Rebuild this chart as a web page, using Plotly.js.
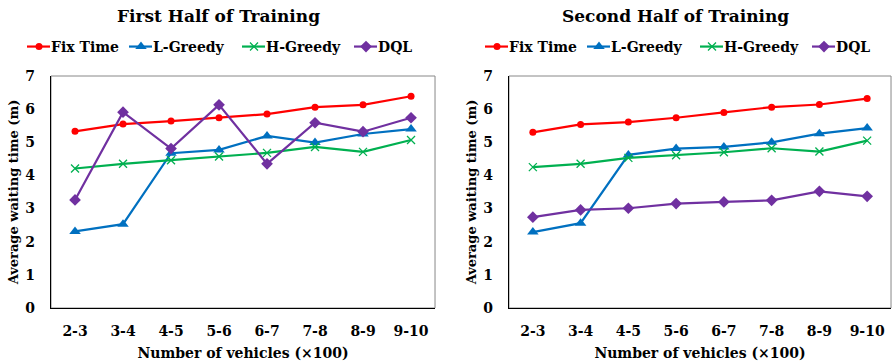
<!DOCTYPE html>
<html>
<head>
<meta charset="utf-8">
<script src="https://cdn.plot.ly/plotly-3.0.1.min.js"></script>
<style>html,body{margin:0;padding:0;background:#fff;}#chart{width:892px;height:364px;}</style>
</head>
<body>
<div id="chart"></div>
<script>
const categories = ["2-3","3-4","4-5","5-6","6-7","7-8","8-9","9-10"];
const seriesNames = ["Fix Time","L-Greedy","H-Greedy","DQL"];
// First half of training
const fixTime1 = [5.33, 5.55, 5.64, 5.74, 5.85, 6.06, 6.13, 6.39];
const lGreedy1 = [2.31, 2.53, 4.67, 4.77, 5.19, 4.99, 5.25, 5.40];
const hGreedy1 = [4.21, 4.35, 4.46, 4.57, 4.68, 4.86, 4.71, 5.07];
const dql1     = [3.26, 5.91, 4.81, 6.13, 4.35, 5.59, 5.32, 5.74];
// Second half of training
const fixTime2 = [5.30, 5.54, 5.61, 5.74, 5.90, 6.06, 6.14, 6.32];
const lGreedy2 = [2.29, 2.56, 4.62, 4.81, 4.86, 5.00, 5.26, 5.43];
const hGreedy2 = [4.25, 4.35, 4.53, 4.61, 4.70, 4.82, 4.72, 5.05];
const dql2     = [2.74, 2.96, 3.01, 3.15, 3.20, 3.25, 3.52, 3.37];

const colors = ["#FF0000", "#0070C0", "#00B050", "#7030A0"];
const symbols = ["circle", "triangle-up", "x-thin-open", "diamond"];
const sizes = [7, 10, 8, 9];
const FONT = "DejaVu Serif";
// legend text start positions (px) for each panel
const legendTextX = [[51, 153, 266, 378], [509, 611, 724, 836]];

const data1 = [fixTime1, lGreedy1, hGreedy1, dql1];
const data2 = [fixTime2, lGreedy2, hGreedy2, dql2];
const traces = [];
const layoutLegends = {};
const legendFont = {family: FONT, size: 14, color: "#000", weight: "bold"};
[data1, data2].forEach((set, k) => {
  set.forEach((vals, i) => {
    const idx = k * 4 + i + 1;
    const key = idx === 1 ? "legend" : "legend" + idx;
    traces.push({
      type: "scatter", mode: "lines+markers",
      x: categories, y: vals, name: seriesNames[i],
      xaxis: k === 0 ? "x" : "x2", yaxis: k === 0 ? "y" : "y2",
      legend: key,
      line: {color: colors[i], width: 2.2},
      marker: {color: colors[i], symbol: symbols[i], size: sizes[i],
               line: {color: colors[i], width: i === 2 ? 1.3 : 0}}
    });
    layoutLegends[key] = {orientation: "h", yanchor: "middle", y: 0.871, xanchor: "left",
      x: (legendTextX[k][i] - 40) / 892, font: legendFont, bgcolor: "rgba(0,0,0,0)",
      itemwidth: 30, borderwidth: 0};
  });
});

const tickFont = {family: FONT, size: 14, color: "#000", weight: "bold"};
function xAx(domain, anchor) {
  return {domain: domain, anchor: anchor, type: "category", range: [-0.5, 7.5],
    showline: true, linecolor: "#000", linewidth: 1.3, ticks: "", showgrid: false, zeroline: false,
    tickfont: tickFont, ticklabelstandoff: 10,
    title: {text: "<b>Number of vehicles (×100)</b>", font: {family: FONT, size: 14, color: "#000"}, standoff: 10}};
}
function yAx(anchor) {
  return {domain: [0.1538, 0.7912], anchor: anchor, range: [0, 7], dtick: 1,
    showline: true, linecolor: "#000", linewidth: 1.3, ticks: "", showgrid: false, zeroline: false,
    tickfont: tickFont, ticklabelstandoff: 12,
    title: {text: "<b>Average waiting time (m)</b>", font: {family: FONT, size: 13, color: "#000"}, standoff: 3}};
}

const layout = Object.assign({
  width: 892, height: 364, margin: {l: 0, r: 0, t: 0, b: 0},
  paper_bgcolor: "#fff", plot_bgcolor: "#fff", showlegend: true,
  xaxis: xAx([0.0572, 0.4877], "y"),
  yaxis: yAx("x"),
  xaxis2: xAx([0.5706, 0.9989], "y2"),
  yaxis2: yAx("x2"),
  shapes: [
    {type: "rect", xref: "x domain", yref: "y domain", x0: 0, x1: 1, y0: 0, y1: 1, line: {color: "#888", width: 1}, layer: "below"},
    {type: "rect", xref: "x2 domain", yref: "y2 domain", x0: 0, x1: 1, y0: 0, y1: 1, line: {color: "#888", width: 1}, layer: "below"}
  ],
  annotations: [
    {text: "<b>First Half of Training</b>", xref: "paper", yref: "paper", x: 0.245, y: 0.955, xanchor: "center", yanchor: "middle", showarrow: false, font: {family: FONT, size: 17, color: "#000"}},
    {text: "<b>Second Half of Training</b>", xref: "paper", yref: "paper", x: 0.757, y: 0.955, xanchor: "center", yanchor: "middle", showarrow: false, font: {family: FONT, size: 17, color: "#000"}}
  ]
}, layoutLegends);
Plotly.newPlot("chart", traces, layout, {displayModeBar: false, staticPlot: true}).then(gd => {
  // shorten legend sample lines to match the original's compact legend keys
  gd.querySelectorAll(".legendlines path").forEach(p => p.setAttribute("d", "M16,0h23"));
  gd.querySelectorAll(".legendpoints .scatterpts").forEach(g => g.setAttribute("transform", "translate(28,0)"));
});
</script>
</body>
</html>
